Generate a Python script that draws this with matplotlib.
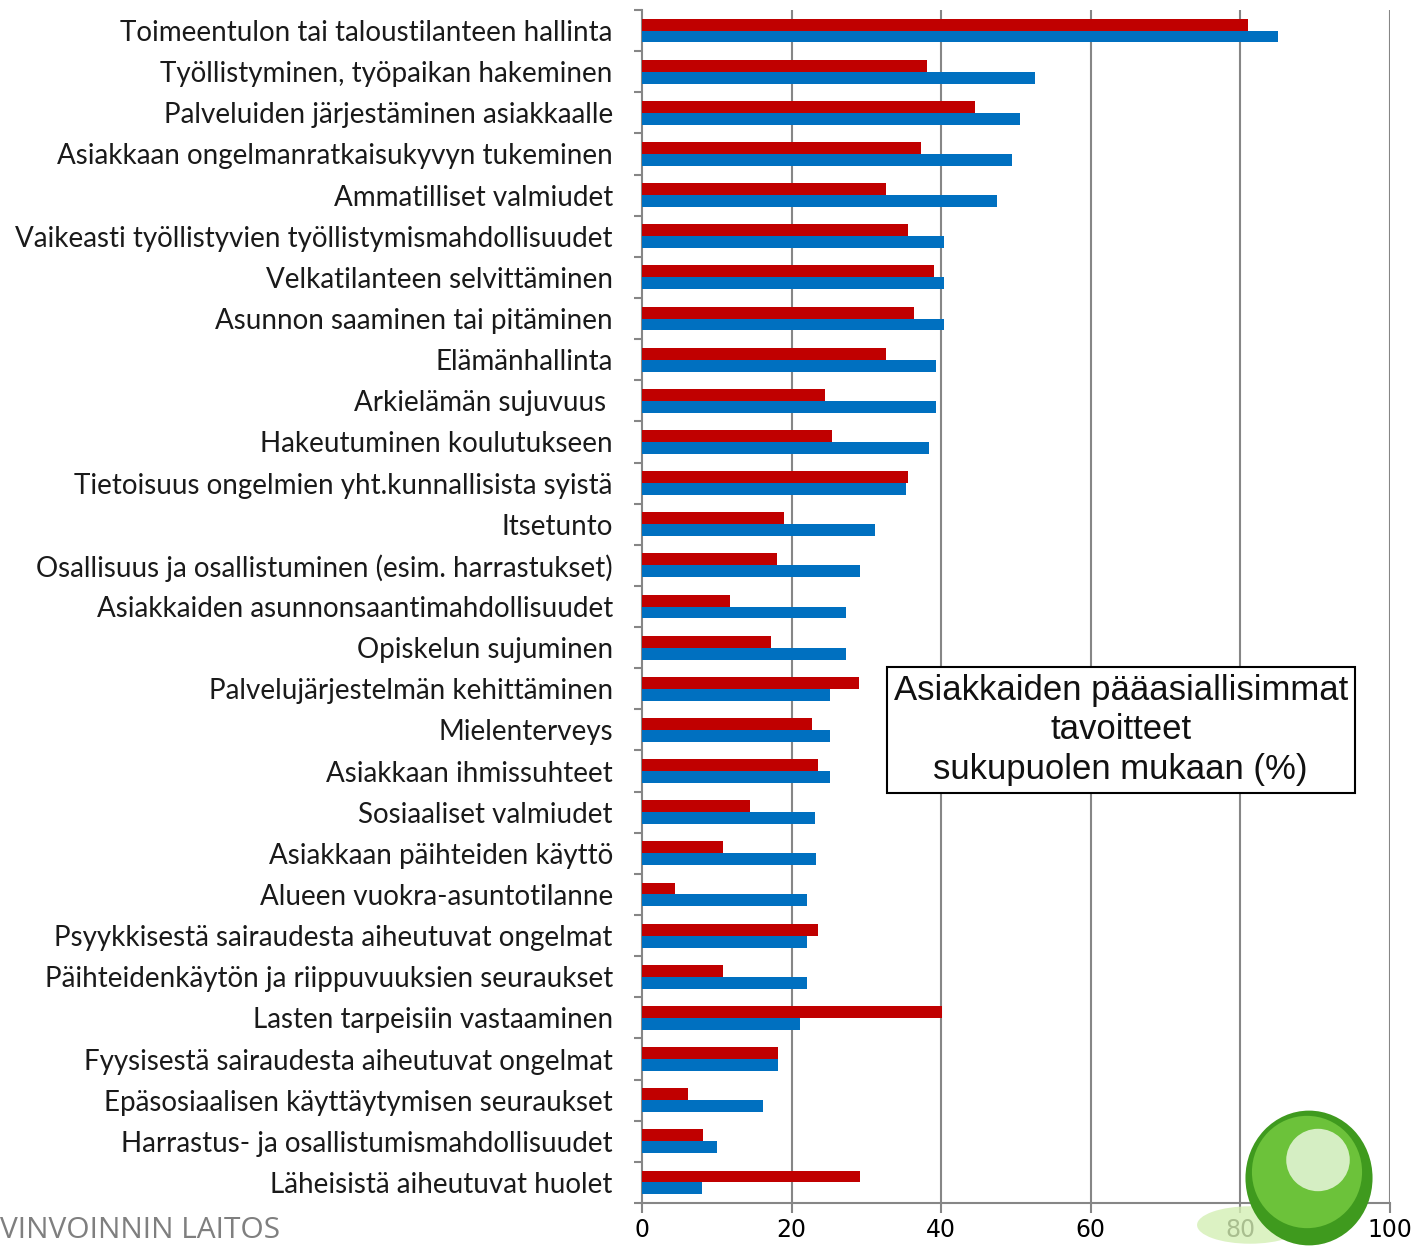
import numpy as np
import matplotlib.pyplot as plt
from matplotlib.patches import Ellipse

# Data (top to bottom)
goals = [
    "Toimeentulon tai taloustilanteen hallinta",
    "Työllistyminen, työpaikan hakeminen",
    "Palveluiden järjestäminen asiakkaalle",
    "Asiakkaan ongelmanratkaisukyvyn tukeminen",
    "Ammatilliset valmiudet",
    "Vaikeasti työllistyvien työllistymismahdollisuudet",
    "Velkatilanteen selvittäminen",
    "Asunnon saaminen tai pitäminen",
    "Elämänhallinta",
    "Arkielämän sujuvuus ",
    "Hakeutuminen koulutukseen",
    "Tietoisuus ongelmien yht.kunnallisista syistä",
    "Itsetunto",
    "Osallisuus ja osallistuminen (esim. harrastukset)",
    "Asiakkaiden asunnonsaantimahdollisuudet",
    "Opiskelun sujuminen",
    "Palvelujärjestelmän kehittäminen",
    "Mielenterveys",
    "Asiakkaan ihmissuhteet",
    "Sosiaaliset valmiudet",
    "Asiakkaan päihteiden käyttö",
    "Alueen vuokra-asuntotilanne",
    "Psyykkisestä sairaudesta aiheutuvat ongelmat",
    "Päihteidenkäytön ja riippuvuuksien seuraukset",
    "Lasten tarpeisiin vastaaminen",
    "Fyysisestä sairaudesta aiheutuvat ongelmat",
    "Epäsosiaalisen käyttäytymisen seuraukset",
    "Harrastus- ja osallistumismahdollisuudet",
    "Läheisistä aiheutuvat huolet",
]
red_vals = [81.0, 38.1, 44.5, 37.3, 32.6, 35.5, 39.0, 36.4, 32.6, 24.4,
            25.4, 35.5, 19.0, 18.1, 11.7, 17.2, 29.0, 22.7, 23.5, 14.4,
            10.8, 4.4, 23.5, 10.8, 40.1, 18.2, 6.2, 8.2, 29.1]
blue_vals = [85.0, 52.6, 50.5, 49.5, 47.5, 40.4, 40.4, 40.4, 39.3, 39.3,
             38.4, 35.3, 31.2, 29.2, 27.3, 27.3, 25.2, 25.2, 25.2, 23.1,
             23.2, 22.1, 22.1, 22.1, 21.1, 18.2, 16.2, 10.0, 8.0]
xticks = [0, 20, 40, 60, 80, 100]

n = len(goals)
y = np.arange(n)[::-1]

fig = plt.figure(figsize=(14.12, 12.48), dpi=100)
ax = fig.add_axes([642 / 1412, 1 - 1203 / 1248, 748 / 1412, 1193 / 1248])

h = 0.29
ax.barh(y + h / 2, red_vals, height=h, color="#C00000", zorder=3)
ax.barh(y - h / 2, blue_vals, height=h, color="#0070C0", zorder=3)

ax.set_xlim(0, 100)
ax.set_ylim(-0.5, n - 0.5)
ax.set_xticks(xticks)
ax.set_xticklabels([str(t) for t in xticks], fontsize=17, family="Liberation Sans Narrow")
ax.set_yticks(y)
ax.set_yticklabels(goals, fontsize=20, family="Lato", color="#1a1a1a")
ax.set_yticks(np.arange(n + 1) - 0.5, minor=True)
ax.tick_params(axis="y", which="major", length=0, pad=21)
ax.tick_params(axis="y", which="minor", length=6, color="#868686", width=1.5)
ax.tick_params(axis="x", length=7, color="#868686", width=1.5, pad=4)

for x in xticks[1:]:
    ax.axvline(x, color="#868686", lw=1.5, zorder=1)

for s in ["top", "right"]:
    ax.spines[s].set_visible(False)
for s in ["left", "bottom"]:
    ax.spines[s].set_color("#868686")
    ax.spines[s].set_linewidth(1.5)

ax.text(64.0, 11.0, "Asiakkaiden pääasiallisimmat\ntavoitteet\nsukupuolen mukaan (%)",
        ha="center", va="center", fontsize=25, family="Liberation Sans",
        linespacing=1.25, zorder=5, color="#111111",
        bbox=dict(boxstyle="square,pad=0.2", fc="white", ec="black", lw=1.5))

fig.text(0.0, 1 - 1231 / 1248, "VINVOINNIN LAITOS", fontsize=21.5, color="#7f7f7f",
         family="Open Sans", ha="left", va="center")

# green logo
fig.patches.append(Ellipse((1250 / 1412, 1 - 1225 / 1248), 0.075, 0.03,
                           transform=fig.transFigure, fc="#d4efb4", ec="none", alpha=0.8))
fig.patches.append(Ellipse((1309 / 1412, 1 - 1178 / 1248), 0.09, 0.108,
                           transform=fig.transFigure, fc="#3f9a1e", ec="none"))
fig.patches.append(Ellipse((1307 / 1412, 1 - 1172 / 1248), 0.078, 0.09,
                           transform=fig.transFigure, fc="#6cc23a", ec="none"))
fig.patches.append(Ellipse((1318 / 1412, 1 - 1160 / 1248), 0.045, 0.05,
                           transform=fig.transFigure, fc="#e8f6dc", ec="none", alpha=0.85))

fig.savefig("out.png", dpi=100)
